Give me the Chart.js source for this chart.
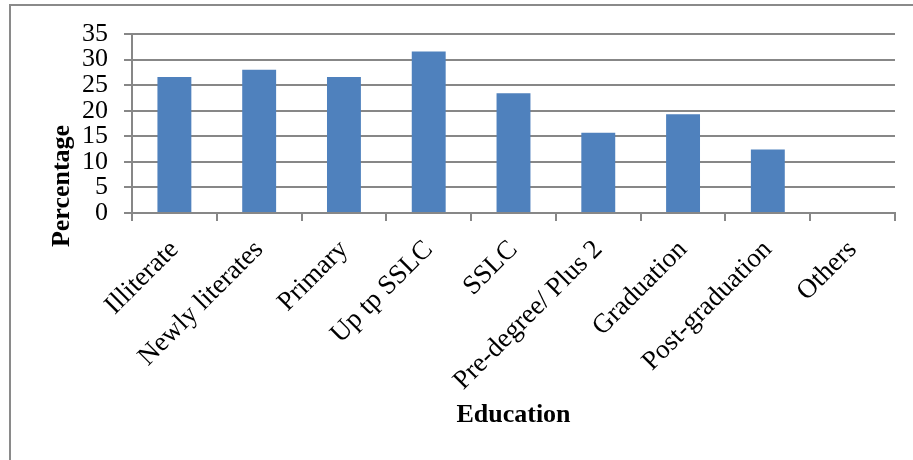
<!DOCTYPE html>
<html>
<head>
<meta charset="utf-8">
<script src="https://cdn.jsdelivr.net/npm/chart.js@4"></script>
<style>
  body { margin: 0; background: #fff; }
  #wrap { position: relative; width: 913px; height: 460px; overflow: hidden; }
  #frame { position: absolute; left: 9px; top: 4px; width: 1000px; height: 600px;
           border-left: 2px solid #8a8a8a; border-top: 2px solid #8a8a8a; }
  canvas { position: absolute; left: 0; top: 0; }
</style>
</head>
<body>
<div id="wrap">
  <div id="frame"></div>
  <canvas id="myChart" width="913" height="460"></canvas>
</div>
<script>
// categories (x axis) and values (%)
const categories = ['Illiterate', 'Newly literates', 'Primary', 'Up tp SSLC', 'SSLC',
                    'Pre-degree/ Plus 2', 'Graduation', 'Post-graduation', 'Others'];
const values = [26.6, 28.0, 26.6, 31.6, 23.4, 15.7, 19.3, 12.4, 0];
const yTicks = [0, 5, 10, 15, 20, 25, 30, 35];
const xTitle = 'Education';
const yTitle = 'Percentage';

const serif = '"Liberation Serif", "Times New Roman", serif';
const gridColor = '#878787';

// axis titles drawn by hand (positions like the original)
const axisTitles = {
  id: 'axisTitles',
  afterDraw(chart) {
    const ctx = chart.ctx;
    const area = chart.chartArea;
    ctx.save();
    ctx.fillStyle = '#000';
    ctx.font = 'bold 26px ' + serif;
    ctx.textAlign = 'center';
    ctx.textBaseline = 'alphabetic';
    ctx.fillText(xTitle, (area.left + area.right) / 2, 422);
    ctx.translate(69, 186);
    ctx.rotate(-Math.PI / 2);
    ctx.fillText(yTitle, 0, 0);
    ctx.restore();
  }
};

const config = {
  type: 'bar',
  data: {
    labels: categories,
    datasets: [{
      label: 'Percentage',
      data: values,
      backgroundColor: '#4f81bd',
      borderWidth: 0,
      barPercentage: 0.4,
      categoryPercentage: 1.0
    }]
  },
  options: {
    responsive: false,
    animation: false,
    layout: { padding: { left: 0, right: 18, top: 34, bottom: 0 } },
    plugins: {
      legend: { display: false },
      tooltip: { enabled: false }
    },
    scales: {
      x: {
        afterFit: (scale) => { scale.height = 247; },
        grid: { display: true, drawOnChartArea: false, drawTicks: true, tickLength: 8,
                color: gridColor, lineWidth: 2 },
        border: { display: true, color: gridColor, width: 2 },
        ticks: {
          autoSkip: false, minRotation: 45, maxRotation: 45, padding: 13,
          color: '#000', font: { family: serif, size: 27 }
        }
      },
      y: {
        min: 0,
        max: 35,
        afterFit: (scale) => { scale.width = 132; },
        afterBuildTicks: (scale) => { scale.ticks = yTicks.map(v => ({ value: v })); },
        grid: { color: gridColor, lineWidth: 2, drawTicks: true, tickLength: 8 },
        border: { display: true, color: gridColor, width: 2 },
        ticks: {
          autoSkip: false, stepSize: 5, padding: 16,
          color: '#000', font: { family: serif, size: 26 }
        }
      }
    }
  },
  plugins: [axisTitles]
};

// create chart
const ctx = document.getElementById('myChart').getContext('2d');
const myChart = new Chart(ctx, config);
</script>
</body>
</html>
